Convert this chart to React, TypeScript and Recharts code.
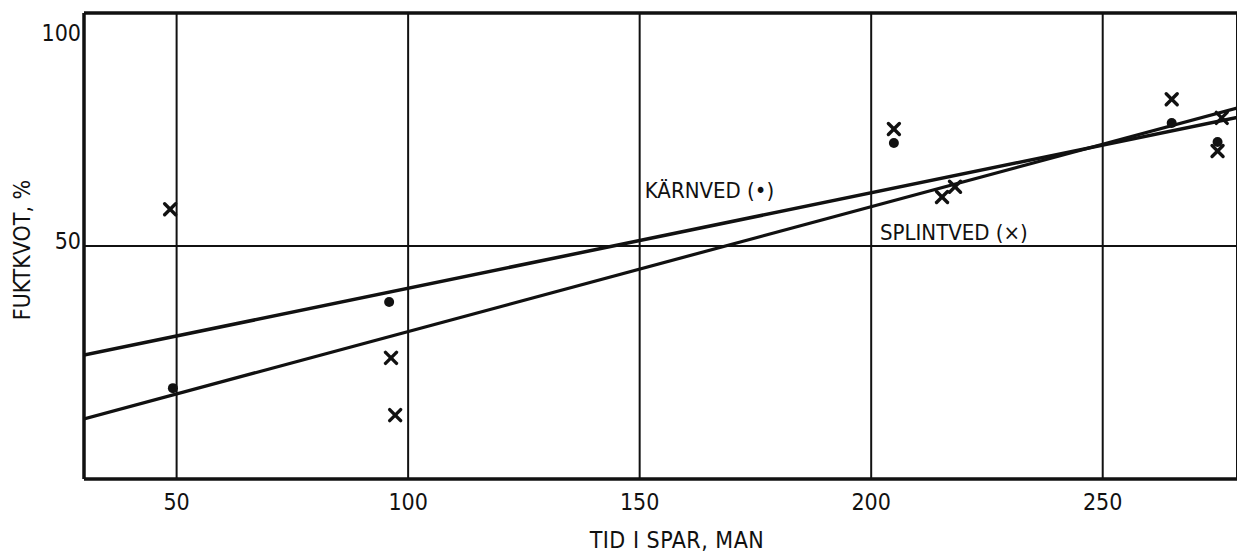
import React from 'react';
import {
  ComposedChart,
  Line,
  Scatter,
  XAxis,
  YAxis,
  CartesianGrid,
  ReferenceLine,
  ReferenceDot,
} from 'recharts';

// Measured points: kärnved (dots) and splintved (crosses)
const karnvedPoints = [
  { x: 49.2, y: 19.5 },
  { x: 95.9, y: 38.0 },
  { x: 204.9, y: 72.1 },
  { x: 264.9, y: 76.4 },
  { x: 274.8, y: 72.3 },
];

const splintvedPoints = [
  { x: 48.6, y: 57.9 },
  { x: 96.3, y: 26.0 },
  { x: 97.2, y: 13.7 },
  { x: 204.9, y: 75.1 },
  { x: 215.3, y: 60.5 },
  { x: 218.1, y: 62.7 },
  { x: 264.9, y: 81.5 },
  { x: 275.7, y: 77.5 },
  { x: 274.8, y: 70.4 },
];

// Fitted regression lines (end points at the plot edges)
const karnvedLine = [
  { x: 30, y: 26.6 },
  { x: 279, y: 77.6 },
];

const splintvedLine = [
  { x: 30, y: 12.9 },
  { x: 279, y: 79.6 },
];

const xTicks = [50, 100, 150, 200, 250];
const yTicks = [50, 100];

const xDomain = [30, 279];
const yDomain = [0, 100];

const FONT = '"DejaVu Sans Condensed", "DejaVu Sans", sans-serif';
const INK = '#111';

const DotShape = (props: any) => {
  const { cx, cy } = props;
  if (cx == null || cy == null) return null;
  return <circle cx={cx} cy={cy} r={5} fill={INK} />;
};

const CrossShape = (props: any) => {
  const { cx, cy } = props;
  if (cx == null || cy == null) return null;
  const s = 5.5;
  return (
    <g stroke={INK} strokeWidth={3.4} strokeLinecap="round">
      <line x1={cx - s} y1={cy - s} x2={cx + s} y2={cy + s} />
      <line x1={cx - s} y1={cy + s} x2={cx + s} y2={cy - s} />
    </g>
  );
};

const YTick = (props: any) => {
  const { x, y, payload } = props;
  const dy = payload.value === 100 ? 20 : -5;
  return (
    <text
      x={x}
      y={y + dy}
      textAnchor="end"
      dominantBaseline="central"
      fontFamily={FONT}
      fontSize={23}
      fill={INK}
    >
      {payload.value}
    </text>
  );
};

const XTick = (props: any) => {
  const { x, y, payload } = props;
  return (
    <text
      x={x}
      y={y}
      textAnchor="middle"
      dominantBaseline="central"
      fontFamily={FONT}
      fontSize={23}
      fill={INK}
    >
      {payload.value}
    </text>
  );
};

const XTitle = () => (
  <text
    x={677}
    y={540}
    textAnchor="middle"
    dominantBaseline="central"
    fontFamily={FONT}
    fontSize={23}
    letterSpacing={0.5}
    fill={INK}
  >
    TID I SPAR, MAN
  </text>
);

const YTitle = () => (
  <text
    x={22}
    y={250}
    transform="rotate(-90, 22, 250)"
    textAnchor="middle"
    dominantBaseline="central"
    fontFamily={FONT}
    fontSize={23}
    fill={INK}
  >
    FUKTKVOT, %
  </text>
);

const InlineLabel = (text: string) => (props: any) => {
  const { viewBox } = props;
  const x = viewBox ? viewBox.x ?? viewBox.cx : 0;
  const y = viewBox ? viewBox.y ?? viewBox.cy : 0;
  return (
    <text
      x={x}
      y={y}
      textAnchor="start"
      dominantBaseline="central"
      fontFamily={FONT}
      fontSize={22}
      fill={INK}
    >
      {text}
    </text>
  );
};

export default function App() {
  return (
    <div style={{ position: 'absolute', left: 0, top: 0, background: '#fff' }}>
      <ComposedChart
        width={1237}
        height={554}
        margin={{ top: 13, right: 0, bottom: 0, left: 0 }}
      >
        <CartesianGrid stroke={INK} strokeWidth={2} fill="none" />
        <XAxis
          type="number"
          dataKey="x"
          domain={xDomain}
          ticks={xTicks}
          allowDataOverflow
          height={75}
          tickSize={0}
          tickMargin={23}
          tick={<XTick />}
          axisLine={{ stroke: INK, strokeWidth: 3.5 }}
          tickLine={false}
          label={{ content: <XTitle /> }}
        />
        <YAxis
          type="number"
          dataKey="y"
          domain={yDomain}
          ticks={yTicks}
          allowDataOverflow
          width={84}
          tickSize={0}
          tickMargin={3}
          tick={<YTick />}
          axisLine={{ stroke: INK, strokeWidth: 3.5 }}
          tickLine={false}
          label={{ content: <YTitle /> }}
        />
        <ReferenceLine y={100} stroke={INK} strokeWidth={3.5} />
        <Line
          data={karnvedLine}
          dataKey="y"
          type="linear"
          stroke={INK}
          strokeWidth={3.5}
          dot={false}
          activeDot={false}
          isAnimationActive={false}
        />
        <Line
          data={splintvedLine}
          dataKey="y"
          type="linear"
          stroke={INK}
          strokeWidth={3.2}
          dot={false}
          activeDot={false}
          isAnimationActive={false}
        />
        <Scatter
          data={karnvedPoints}
          dataKey="y"
          shape={<DotShape />}
          isAnimationActive={false}
        />
        <Scatter
          data={splintvedPoints}
          dataKey="y"
          shape={<CrossShape />}
          isAnimationActive={false}
        />
        <ReferenceDot
          x={151.1}
          y={62.0}
          r={0}
          fill="none"
          stroke="none"
          label={{ content: InlineLabel('KÄRNVED (•)') }}
        />
        <ReferenceDot
          x={201.9}
          y={52.8}
          r={0}
          fill="none"
          stroke="none"
          label={{ content: InlineLabel('SPLINTVED (×)') }}
        />
      </ComposedChart>
    </div>
  );
}
